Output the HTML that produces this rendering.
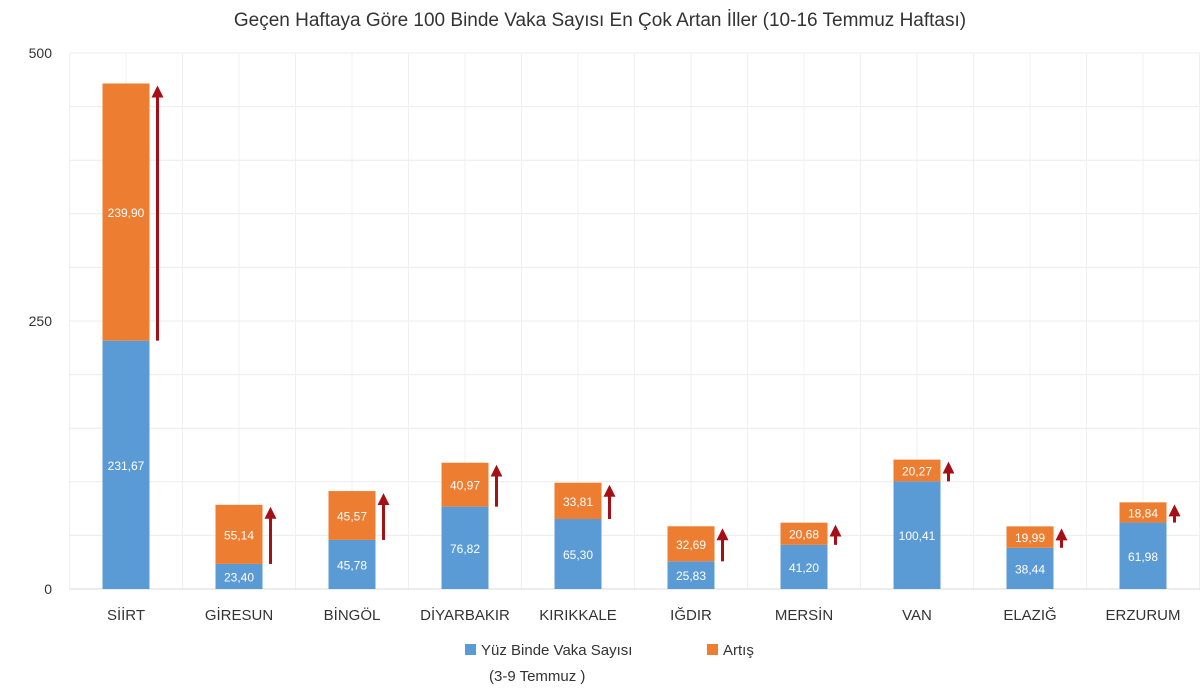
<!DOCTYPE html>
<html><head><meta charset="utf-8"><style>
body{margin:0;background:#fff;font-family:"Liberation Sans",sans-serif}
</style></head><body>
<svg id="c" width="1200" height="691" xmlns="http://www.w3.org/2000/svg" font-family="Liberation Sans, sans-serif">
<text x="600" y="26" text-anchor="middle" font-size="19" fill="#333">Geçen Haftaya Göre 100 Binde Vaka Sayısı En Çok Artan İller (10-16 Temmuz Haftası)</text>
<g id="grid"></g><g id="bars"></g><g id="labels"></g>
<g>
<rect x="465" y="644" width="11" height="11" fill="#5b9bd5"/>
<text x="481" y="655" font-size="15" fill="#333">Yüz Binde Vaka Sayısı</text>
<text x="489" y="681" font-size="15" fill="#333">(3-9 Temmuz )</text>
<rect x="707" y="644" width="11" height="11" fill="#ed7d31"/>
<text x="723" y="655" font-size="15" fill="#333">Artış</text>
</g>
</svg>
<script>
const categories=["SİİRT","GİRESUN","BİNGÖL","DİYARBAKIR","KIRIKKALE","IĞDIR","MERSİN","VAN","ELAZIĞ","ERZURUM"];
const baseValues=[231.67,23.40,45.78,76.82,65.30,25.83,41.20,100.41,38.44,61.98];
const increaseValues=[239.90,55.14,45.57,40.97,33.81,32.69,20.68,20.27,19.99,18.84];
const yTicks=[0,250,500];
const NS="http://www.w3.org/2000/svg";
const y0=589,y1=53,ymax=500,xl=69.5,band=113;
const y=v=>y0-(v/ymax)*(y0-y1);
const xc=i=>xl+band*(i+0.5);
function mk(t,a,p){const e=document.createElementNS(NS,t);for(const k in a)e.setAttribute(k,a[k]);p.appendChild(e);return e;}
const g=document.getElementById('grid'),b=document.getElementById('bars'),L=document.getElementById('labels');
for(let v=0;v<=ymax;v+=50){const l=mk('line',{x1:xl,x2:1200,y1:y(v),y2:y(v),stroke:'#ececec'},g);

}
for(let k=0;k<=20;k++){const x=xl+k*band/2;const l=mk('line',{x1:x,x2:x,y1:y1,y2:y0,stroke:'#f0f0f0'},g);

}
const ax=mk('line',{x1:xl,x2:1200,y1:y0,y2:y0,stroke:'#d9d9d9'},g);


yTicks.forEach(v=>{const t=mk('text',{x:52,y:y(v)+5,'text-anchor':'end','font-size':14,fill:'#333'},L);t.textContent=v;

});
const defs=mk('defs',{},b);
const m=mk('marker',{id:'ah',markerWidth:4,markerHeight:4,refX:2,refY:2,orient:'auto',markerUnits:'strokeWidth'},defs);
mk('path',{d:'M0,0 L4,2 L0,4 Z',fill:'#a50f15'},m);
categories.forEach((c,i)=>{
 const w=47,x=xc(i)-w/2,bv=baseValues[i],iv=increaseValues[i];
 const r1=mk('rect',{x:x,y:y(bv),width:w,height:y0-y(bv),fill:'#5b9bd5'},b);
 
 
 const r2=mk('rect',{x:x,y:y(bv+iv),width:w,height:y(bv)-y(bv+iv),fill:'#ed7d31'},b);
 
 
 const ar=mk('line',{x1:x+w+8,x2:x+w+8,y1:y(bv),y2:y(bv+iv)+8,stroke:'#a50f15','stroke-width':3,'marker-end':'url(#ah)'},b);
 
 
 const t1=mk('text',{x:xc(i),y:(y(bv)+y0)/2+5,'text-anchor':'middle','font-size':12,fill:'#fff'},L);t1.textContent=bv.toFixed(2).replace('.',',');
 
 
 const t2=mk('text',{x:xc(i),y:(y(bv)+y(bv+iv))/2+5,'text-anchor':'middle','font-size':12,fill:'#fff'},L);t2.textContent=iv.toFixed(2).replace('.',',');
 
 
 const t3=mk('text',{x:xc(i),y:620,'text-anchor':'middle','font-size':15,fill:'#333'},L);t3.textContent=c;
 
 
});
</script>
</body></html>
